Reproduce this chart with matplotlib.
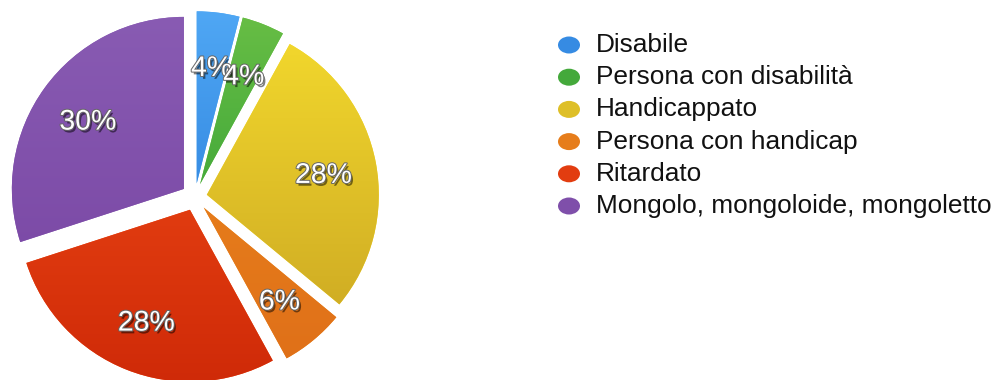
import numpy as np
import matplotlib.pyplot as plt
import matplotlib.patheffects as pe
from matplotlib.patches import Ellipse
from matplotlib.colors import LinearSegmentedColormap, to_rgb

plt.rcParams['font.family'] = ['Liberation Sans', 'DejaVu Sans']

labels = ['Disabile', 'Persona con disabilità', 'Handicappato',
          'Persona con handicap', 'Ritardato', 'Mongolo, mongoloide, mongoletto']
values = [4, 4, 28, 6, 28, 30]
top_colors = ['#52aaf6', '#6cc046', '#f8df2e', '#ee8c1e', '#f7521a', '#8a5db4']
bottom_colors = ['#1a6ccf', '#1b922f', '#c49e21', '#de6d18', '#cd2807', '#74409f']
explode = [0.08, 0.08, 0.07, 0.08, 0.08, 0.08]

W, H = 998, 380
fig = plt.figure(figsize=(W / 100, H / 100), dpi=100)

# pie axes in pixel units, radius 172 px, center (195, 197) from top-left
r_px = 172
cx, cy = 195, 197
ax_w = 400
ax = fig.add_axes([0, 0, ax_w / W, 1])
wedges, texts, autotexts = ax.pie(values, startangle=90, counterclock=False,
                                  explode=explode, autopct='%d%%', pctdistance=0.69,
                                  colors=top_colors,
                                  wedgeprops=dict(linewidth=0))

# vertical gradient in each slice
for w, c0, c1 in zip(wedges, top_colors, bottom_colors):
    cmap = LinearSegmentedColormap.from_list('g', [c1, c0])
    grad = np.linspace(0, 1, 256).reshape(-1, 1)
    im = ax.imshow(grad, cmap=cmap, origin='lower', aspect='auto',
                   extent=[-1.2, 1.2, -1.2, 1.2], zorder=w.get_zorder() + 0.1)
    im.set_clip_path(w)
ax.set_xlim(-cx / r_px, (ax_w - cx) / r_px)
ax.set_ylim(-(H - cy) / r_px, cy / r_px)
ax.set_aspect('auto')

for t in autotexts:
    t.set_color('white')
    t.set_fontsize(20.5)
    t.set_zorder(10)
    x, y = t.get_position()
    t.set_position((x, y - 0.02))
    t.set_path_effects([pe.SimplePatchShadow(offset=(1.5, -2), shadow_rgbFace='black', alpha=0.5),
                        pe.Stroke(linewidth=1.4, foreground='#666666'),
                        pe.Normal()])

# legend
ax_leg = fig.add_axes([0, 0, 1, 1])
ax_leg.set_xlim(0, W)
ax_leg.set_ylim(H, 0)
ax_leg.axis('off')
for i, (lab, c0, c1) in enumerate(zip(labels, top_colors, bottom_colors)):
    y = 45 + i * 32.2
    mid = tuple(0.5 * a + 0.5 * b for a, b in zip(to_rgb(c0), to_rgb(c1)))
    ax_leg.add_patch(Ellipse((569, y), 22, 17, facecolor=mid, edgecolor='none'))
    ax_leg.text(596, y, lab, fontsize=18.9, va='center', ha='left', color='#111111')

fig.savefig('out.png', dpi=100)
